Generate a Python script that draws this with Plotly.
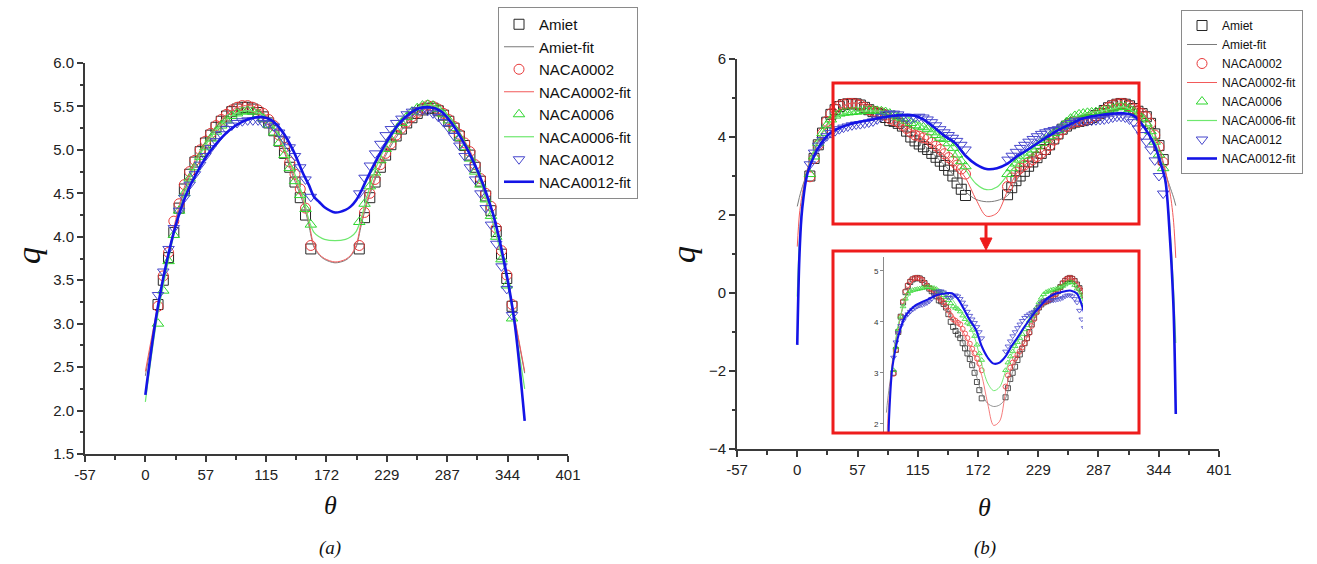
import plotly.graph_objects as go

# ---------------- Panel (a) data ----------------
THETA_FIT_A = [0, 10, 20, 30, 40, 50, 60, 70, 80, 90, 100, 110, 120, 130, 140, 150, 155, 160, 165, 170,
               180, 190, 195, 200, 205, 210, 220, 230, 240, 250, 260, 270, 280, 290, 300, 310, 320, 330,
               340, 350, 360]
AMIET_FIT_A = [2.4, 3.06, 3.65, 4.22, 4.64, 4.92, 5.13, 5.3, 5.42, 5.48, 5.49, 5.43, 5.29, 5.03, 4.7, 4.38,
               4.14, 3.88, 3.79, 3.74, 3.7, 3.73, 3.78, 3.88, 4.14, 4.37, 4.72, 4.98, 5.18, 5.32, 5.43, 5.49,
               5.45, 5.33, 5.15, 4.91, 4.57, 4.25, 3.72, 3.08, 2.43]
N0002_FIT_A = [2.45, 3.1, 3.68, 4.26, 4.68, 4.95, 5.15, 5.32, 5.44, 5.5, 5.51, 5.45, 5.31, 5.05, 4.74, 4.42,
               4.18, 3.9, 3.8, 3.75, 3.71, 3.74, 3.79, 3.9, 4.18, 4.4, 4.75, 5.01, 5.21, 5.34, 5.45, 5.51,
               5.47, 5.35, 5.17, 4.94, 4.6, 4.28, 3.75, 3.1, 2.45]
N0006_FIT_A = [2.1, 2.98, 3.62, 4.18, 4.6, 4.9, 5.11, 5.27, 5.38, 5.44, 5.45, 5.41, 5.3, 5.08, 4.78, 4.45,
               4.2, 4.05, 4.0, 3.97, 3.955, 3.97, 4.0, 4.06, 4.22, 4.45, 4.83, 5.08, 5.27, 5.4, 5.49, 5.52,
               5.47, 5.34, 5.14, 4.88, 4.56, 4.15, 3.68, 3.02, 2.25]
N0012_FIT_A = [2.18, 3.06, 3.7, 4.18, 4.52, 4.76, 4.96, 5.11, 5.23, 5.31, 5.36, 5.38, 5.34, 5.21, 5.0, 4.72,
               4.6, 4.46, 4.4, 4.34, 4.28, 4.31, 4.35, 4.42, 4.53, 4.66, 4.9, 5.11, 5.29, 5.41, 5.48, 5.49,
               5.45, 5.32, 5.13, 4.9, 4.62, 4.26, 3.74, 3.05, 1.88]

THETA_PTS_A = [12, 17, 22, 27, 32, 37, 42, 47, 52, 57, 62, 67, 72, 77, 82, 87, 92, 97, 102, 107, 112, 117,
               122, 127, 132, 137, 142, 147, 152, 157,
               203, 208, 213, 218, 223, 228, 233, 238, 243, 248, 253, 258, 263, 268, 273, 278, 283, 288,
               293, 298, 303, 308, 313, 318, 323, 328, 333, 338, 343, 348]
AMIET_A = [3.22, 3.5, 3.76, 4.05, 4.33, 4.55, 4.72, 4.86, 4.98, 5.08, 5.17, 5.26, 5.33, 5.39, 5.44, 5.47,
           5.49, 5.49, 5.47, 5.43, 5.38, 5.31, 5.22, 5.1, 4.96, 4.8, 4.63, 4.45, 4.25, 3.86,
           3.86, 4.22, 4.45, 4.63, 4.8, 4.94, 5.06, 5.16, 5.24, 5.31, 5.37, 5.42, 5.46, 5.48, 5.48, 5.45,
           5.4, 5.33, 5.25, 5.16, 5.05, 4.94, 4.8, 4.64, 4.47, 4.3, 4.06, 3.8, 3.52, 3.2]
N0002_A = [3.2, 3.55, 3.82, 4.18, 4.38, 4.6, 4.75, 4.88, 5.0, 5.1, 5.19, 5.28, 5.35, 5.41, 5.46, 5.49,
           5.51, 5.51, 5.49, 5.46, 5.42, 5.35, 5.28, 5.17, 5.03, 4.86, 4.72, 4.55, 4.33, 3.9,
           3.9, 4.28, 4.5, 4.66, 4.83, 4.96, 5.07, 5.17, 5.25, 5.32, 5.38, 5.43, 5.48, 5.51, 5.5, 5.47,
           5.42, 5.35, 5.27, 5.18, 5.08, 4.98, 4.83, 4.67, 4.5, 4.35, 4.1, 3.84, 3.56, 3.22]
N0006_A = [3.0, 3.38, 3.72, 4.02, 4.3, 4.5, 4.67, 4.8, 4.92, 5.03, 5.13, 5.21, 5.28, 5.34, 5.39, 5.42,
           5.44, 5.45, 5.44, 5.41, 5.36, 5.29, 5.2, 5.08, 4.94, 4.79, 4.64, 4.48, 4.32, 4.14,
           4.17, 4.38, 4.58, 4.74, 4.88, 5.01, 5.12, 5.22, 5.31, 5.38, 5.44, 5.48, 5.51, 5.52, 5.51, 5.47,
           5.41, 5.34, 5.25, 5.14, 5.03, 4.9, 4.75, 4.6, 4.43, 4.24, 4.0, 3.74, 3.44, 3.06]
N0012_A = [3.33, 3.6, 3.86, 4.1, 4.3, 4.45, 4.6, 4.72, 4.83, 4.93, 5.02, 5.1, 5.18, 5.24, 5.28, 5.31,
           5.33, 5.34, 5.34, 5.34, 5.31, 5.3, 5.27, 5.2, 5.12, 5.03, 4.93, 4.8, 4.66, 4.46,
           4.5, 4.68, 4.82, 4.96, 5.07, 5.17, 5.24, 5.31, 5.36, 5.41, 5.44, 5.46, 5.46, 5.45, 5.42, 5.38,
           5.32, 5.25, 5.16, 5.05, 4.93, 4.8, 4.66, 4.5, 4.33, 4.14, 3.92, 3.66, 3.4, 3.1]

# ---------------- Panel (b) data ----------------
THETA_FIT_B = [0, 2, 4, 6, 8, 10, 15, 20, 30, 40, 50, 60, 70, 80, 90, 100, 110, 120, 130, 140, 150, 160,
               170, 180, 190, 200, 210, 220, 230, 240, 250, 260, 270, 280, 290, 300, 310, 320, 330, 340,
               345, 350, 352, 354, 356, 358, 360]
AMIET_FIT_B = [2.22, 2.45, 2.65, 2.82, 2.98, 3.15, 3.55, 3.88, 4.4, 4.72, 4.86, 4.85, 4.72, 4.58, 4.42,
               4.28, 4.05, 3.8, 3.55, 3.28, 2.98, 2.6, 2.4, 2.34, 2.37, 2.5, 2.95, 3.28, 3.55, 3.8, 4.1,
               4.3, 4.4, 4.5, 4.62, 4.82, 4.86, 4.75, 4.58, 4.1, 3.6, 3.1, 2.92, 2.76, 2.6, 2.44, 2.24]
N0002_FIT_B = [1.19, 2.0, 2.42, 2.72, 2.98, 3.22, 3.6, 3.9, 4.4, 4.72, 4.86, 4.86, 4.74, 4.62, 4.47, 4.32,
               4.15, 3.97, 3.78, 3.53, 3.28, 2.95, 2.4, 1.97, 2.05, 2.62, 3.12, 3.36, 3.55, 3.8, 4.12,
               4.33, 4.42, 4.5, 4.62, 4.82, 4.86, 4.75, 4.58, 4.06, 3.66, 3.16, 2.9, 2.65, 2.3, 1.8, 0.9]
N0006_FIT_B = [-0.09, 1.3, 2.1, 2.6, 2.92, 3.15, 3.6, 3.95, 4.35, 4.55, 4.63, 4.66, 4.67, 4.66, 4.63,
               4.58, 4.45, 4.28, 4.12, 3.93, 3.62, 3.17, 2.8, 2.65, 2.72, 3.03, 3.35, 3.6, 3.85, 4.05,
               4.22, 4.45, 4.57, 4.63, 4.67, 4.72, 4.77, 4.65, 4.4, 3.9, 3.45, 2.85, 2.4, 1.8, 1.0, 0.0,
               -1.28]
N0012_FIT_B = [-1.33, 0.9, 1.95, 2.47, 2.85, 3.1, 3.45, 3.72, 4.07, 4.23, 4.33, 4.39, 4.44, 4.5, 4.54,
               4.56, 4.56, 4.45, 4.25, 4.03, 3.85, 3.52, 3.3, 3.18, 3.2, 3.32, 3.52, 3.69, 3.87, 4.04,
               4.2, 4.33, 4.46, 4.53, 4.57, 4.6, 4.61, 4.55, 4.25, 3.78, 3.38, 2.9, 2.4, 1.6, 0.7, -0.5,
               -3.1]

THETA_PTS_B = [12, 16, 20, 24, 28, 32, 36, 40, 44, 48, 52, 56, 60, 64, 68, 72, 76, 80, 84, 88, 92, 96,
               100, 104, 108, 112, 116, 120, 124, 128, 132, 136, 140, 144, 148, 152, 156, 160,
               200, 204, 208, 212, 216, 220, 224, 228, 232, 236, 240, 244, 248, 252, 256, 260, 264, 268,
               272, 276, 280, 284, 288, 292, 296, 300, 304, 308, 312, 316, 320, 324, 328, 332, 336, 340,
               344, 348]
AMIET_B = [3.0, 3.45, 3.8, 4.1, 4.38, 4.58, 4.7, 4.78, 4.83, 4.85, 4.86, 4.85, 4.82, 4.76, 4.7, 4.65,
           4.6, 4.57, 4.5, 4.42, 4.4, 4.35, 4.28, 4.15, 4.0, 3.9, 3.82, 3.75, 3.68, 3.58, 3.48, 3.38,
           3.27, 3.15, 3.0, 2.82, 2.66, 2.5,
           2.52, 2.7, 2.88, 3.0, 3.12, 3.25, 3.36, 3.47, 3.58, 3.68, 3.8, 3.95, 4.08, 4.2, 4.28, 4.34,
           4.38, 4.4, 4.42, 4.45, 4.5, 4.55, 4.6, 4.68, 4.75, 4.8, 4.84, 4.86, 4.84, 4.8, 4.73, 4.66,
           4.6, 4.52, 4.35, 4.08, 3.78, 3.42]
N0002_B = [2.98, 3.45, 3.8, 4.1, 4.4, 4.6, 4.72, 4.8, 4.84, 4.86, 4.86, 4.85, 4.82, 4.76, 4.7, 4.66,
           4.63, 4.62, 4.56, 4.47, 4.42, 4.38, 4.3, 4.22, 4.12, 4.05, 4.02, 3.98, 3.95, 3.86, 3.77,
           3.68, 3.57, 3.47, 3.38, 3.28, 3.18, 3.05,
           2.73, 2.95, 3.1, 3.2, 3.28, 3.35, 3.42, 3.5, 3.58, 3.67, 3.78, 3.92, 4.05, 4.18, 4.28, 4.35,
           4.39, 4.4, 4.42, 4.45, 4.5, 4.54, 4.6, 4.68, 4.76, 4.82, 4.85, 4.86, 4.85, 4.8, 4.72, 4.65,
           4.6, 4.52, 4.35, 4.05, 3.75, 3.35]
N0006_B = [3.05, 3.5, 3.85, 4.1, 4.3, 4.45, 4.55, 4.6, 4.62, 4.63, 4.64, 4.65, 4.66, 4.67, 4.68, 4.68,
           4.67, 4.66, 4.64, 4.6, 4.56, 4.52, 4.48, 4.42, 4.36, 4.3, 4.27, 4.25, 4.2, 4.12, 4.05, 3.98,
           3.95, 3.84, 3.72, 3.55, 3.38, 3.25,
           3.05, 3.2, 3.32, 3.42, 3.52, 3.6, 3.68, 3.76, 3.85, 3.93, 4.02, 4.1, 4.18, 4.28, 4.38, 4.47,
           4.54, 4.58, 4.6, 4.62, 4.63, 4.64, 4.66, 4.68, 4.7, 4.73, 4.76, 4.78, 4.77, 4.72, 4.65, 4.57,
           4.48, 4.35, 4.15, 3.88, 3.55, 3.2]
N0012_B = [3.3, 3.6, 3.78, 3.92, 4.02, 4.1, 4.15, 4.2, 4.24, 4.27, 4.3, 4.32, 4.33, 4.35, 4.37, 4.4,
           4.45, 4.52, 4.58, 4.6, 4.6, 4.58, 4.52, 4.47, 4.47, 4.5, 4.52, 4.5, 4.45, 4.38, 4.3, 4.2,
           4.12, 4.05, 3.98, 3.9, 3.8, 3.68,
           3.42, 3.52, 3.62, 3.72, 3.8, 3.88, 3.95, 4.02, 4.08, 4.12, 4.15, 4.18, 4.2, 4.24, 4.3, 4.36,
           4.4, 4.42, 4.42, 4.42, 4.42, 4.43, 4.44, 4.45, 4.47, 4.5, 4.52, 4.52, 4.5, 4.45, 4.38, 4.22,
           4.05, 3.88, 3.68, 3.4, 3.0, 2.55]

# ---------------- Axis tick labels ----------------
X_TICK_RAD = [-1, 0, 1, 2, 3, 4, 5, 6, 7]
X_TICK_TEXT = ["-57", "0", "57", "115", "172", "229", "287", "344", "401"]
Y_TICKS_A = [1.5, 2.0, 2.5, 3.0, 3.5, 4.0, 4.5, 5.0, 5.5, 6.0]
Y_TICKS_B = [-4, -2, 0, 2, 4, 6]
Y_TICKS_INSET = [2, 3, 4, 5]

# ---------------- styling ----------------
W, H = 1317, 564
def PX(x):
    return x / W
def PY(y):
    return 1 - y / H

DEG = 57.29578
xt = [r * DEG for r in X_TICK_RAD]
xminor = [(r + 0.5) * DEG for r in X_TICK_RAD[:-1]]

MK = {
    "Amiet": ("square-open", "#262626"),
    "NACA0002": ("circle-open", "#e8393a"),
    "NACA0006": ("triangle-up-open", "#2fd62f"),
    "NACA0012": ("triangle-down-open", "#4646cc"),
}
LN = {
    "Amiet-fit": ("#7a7a7a", 1.0),
    "NACA0002-fit": ("#f25a5a", 1.0),
    "NACA0006-fit": ("#6ee86e", 1.2),
    "NACA0012-fit": ("#1414e6", 2.6),
}

SANS = "Liberation Sans, Arial, sans-serif"
SERIF = "Liberation Serif, Times New Roman, serif"

fig = go.Figure()

def add_panel(pts_th, pts, fit_th, fits, xa, ya, legend, msize, showlegend=True, lscale=1.0):
    series = [("Amiet", pts[0]), ("Amiet-fit", fits[0]), ("NACA0002", pts[1]), ("NACA0002-fit", fits[1]),
              ("NACA0006", pts[2]), ("NACA0006-fit", fits[2]), ("NACA0012", pts[3]), ("NACA0012-fit", fits[3])]
    for name, vals in series:
        if name in MK:
            sym, col = MK[name]
            fig.add_trace(go.Scatter(x=pts_th, y=vals, mode="markers", name=name,
                                     marker=dict(symbol=sym, size=msize, color=col,
                                                 line=dict(width=1 if msize > 6 else 0.8, color=col)),
                                     xaxis=xa, yaxis=ya, legend=legend, showlegend=showlegend))
        else:
            col, w = LN[name]
            fig.add_trace(go.Scatter(x=fit_th, y=vals, mode="lines", name=name,
                                     line=dict(color=col, width=w * lscale, shape="spline", smoothing=0.9),
                                     xaxis=xa, yaxis=ya, legend=legend, showlegend=showlegend))

add_panel(THETA_PTS_A, [AMIET_A, N0002_A, N0006_A, N0012_A], THETA_FIT_A,
          [AMIET_FIT_A, N0002_FIT_A, N0006_FIT_A, N0012_FIT_A], "x", "y", "legend", 10)
add_panel(THETA_PTS_B, [AMIET_B, N0002_B, N0006_B, N0012_B], THETA_FIT_B,
          [AMIET_FIT_B, N0002_FIT_B, N0006_FIT_B, N0012_FIT_B], "x2", "y2", "legend2", 10)
add_panel(THETA_PTS_B, [AMIET_B, N0002_B, N0006_B, N0012_B], THETA_FIT_B,
          [AMIET_FIT_B, N0002_FIT_B, N0006_FIT_B, N0012_FIT_B], "x3", "y3", "legend2", 5,
          showlegend=False, lscale=0.8)

AX = dict(showgrid=False, zeroline=False, showline=True, linecolor="#3a3a3a", linewidth=2,
          ticks="outside", ticklen=6, tickwidth=1.5, tickcolor="#3a3a3a", automargin=False,
          tickfont=dict(family=SANS, size=15, color="#222"))

def xaxis(domain, anchor):
    d = dict(AX)
    d.update(domain=domain, anchor=anchor, range=[-57.3, 401.1], tickmode="array", tickvals=xt,
             ticktext=X_TICK_TEXT,
             minor=dict(tickvals=xminor, ticks="outside", ticklen=3.5, tickcolor="#3a3a3a", tickwidth=1.5))
    return d

ya = dict(AX)
ya.update(domain=[PY(454), PY(63)], anchor="x", range=[1.5, 6.0], tickmode="array", tickvals=Y_TICKS_A,
          tickformat=".1f",
          minor=dict(dtick=0.25, tick0=1.5, ticks="outside", ticklen=3.5, tickcolor="#3a3a3a", tickwidth=1.5))
yb = dict(AX)
yb.update(domain=[PY(449), PY(59)], anchor="x2", range=[-4, 6], tickmode="array", tickvals=Y_TICKS_B,
          minor=dict(dtick=1, tick0=-4, ticks="outside", ticklen=3.5, tickcolor="#3a3a3a", tickwidth=1.5))

fig.update_layout(
    width=W, height=H, margin=dict(l=0, r=0, t=0, b=0, pad=0, autoexpand=False),
    paper_bgcolor="white", plot_bgcolor="white",
    xaxis=xaxis([PX(85), PX(568)], "y"),
    yaxis=ya,
    xaxis2=xaxis([PX(737), PX(1219)], "y2"),
    yaxis2=yb,
    xaxis3=dict(domain=[PX(884), PX(1083)], anchor="y3", range=[-4, 330], visible=False, automargin=False),
    yaxis3=dict(domain=[PY(432), PY(257)], anchor="x3", range=[1.84, 5.27], tickmode="array",
                tickvals=Y_TICKS_INSET, showgrid=False, zeroline=False, showline=True, automargin=False,
                linecolor="#8a8a8a", linewidth=1, ticks="outside", ticklen=3, tickcolor="#8a8a8a",
                tickfont=dict(family=SANS, size=8, color="#333")),
    legend=dict(x=PX(498), y=PY(7), xanchor="left", yanchor="top", bgcolor="white",
                bordercolor="#8a8a8a", borderwidth=1, font=dict(family=SANS, size=15, color="#111"),
                tracegroupgap=0),
    legend2=dict(x=PX(1181), y=PY(10), xanchor="left", yanchor="top", bgcolor="white",
                 bordercolor="#8a8a8a", borderwidth=1, font=dict(family=SANS, size=12, color="#111"),
                 tracegroupgap=0),
    showlegend=True,
)

RED = "#ee1c1c"
shapes = [
    dict(type="rect", xref="paper", yref="paper", x0=PX(833), x1=PX(1139), y0=PY(224), y1=PY(83),
         line=dict(color=RED, width=3)),
    dict(type="rect", xref="paper", yref="paper", x0=PX(833), x1=PX(1139), y0=PY(433), y1=PY(251),
         line=dict(color=RED, width=3)),
    dict(type="line", xref="paper", yref="paper", x0=PX(986), x1=PX(986), y0=PY(224), y1=PY(240),
         line=dict(color=RED, width=3)),
    dict(type="path", xref="paper", yref="paper",
         path=f"M {PX(980)},{PY(238)} L {PX(992)},{PY(238)} L {PX(986)},{PY(250)} Z",
         fillcolor=RED, line=dict(color=RED, width=1)),
]
fig.update_layout(shapes=shapes)

ann = [
    dict(text="<i>q</i>", x=PX(28), y=PY(255), textangle=-90, font=dict(family=SERIF, size=34, color="#111")),
    dict(text="<i>θ</i>", x=PX(330), y=PY(505), font=dict(family=SERIF, size=26, color="#111")),
    dict(text="<i>(a)</i>", x=PX(330), y=PY(548), font=dict(family=SERIF, size=19, color="#111")),
    dict(text="<i>q</i>", x=PX(683), y=PY(255), textangle=-90, font=dict(family=SERIF, size=34, color="#111")),
    dict(text="<i>θ</i>", x=PX(985), y=PY(507), font=dict(family=SERIF, size=26, color="#111")),
    dict(text="<i>(b)</i>", x=PX(985), y=PY(548), font=dict(family=SERIF, size=19, color="#111")),
]
for a in ann:
    a.update(xref="paper", yref="paper", showarrow=False, xanchor="center", yanchor="middle")
fig.update_layout(annotations=ann)

fig.write_html("out.html")
